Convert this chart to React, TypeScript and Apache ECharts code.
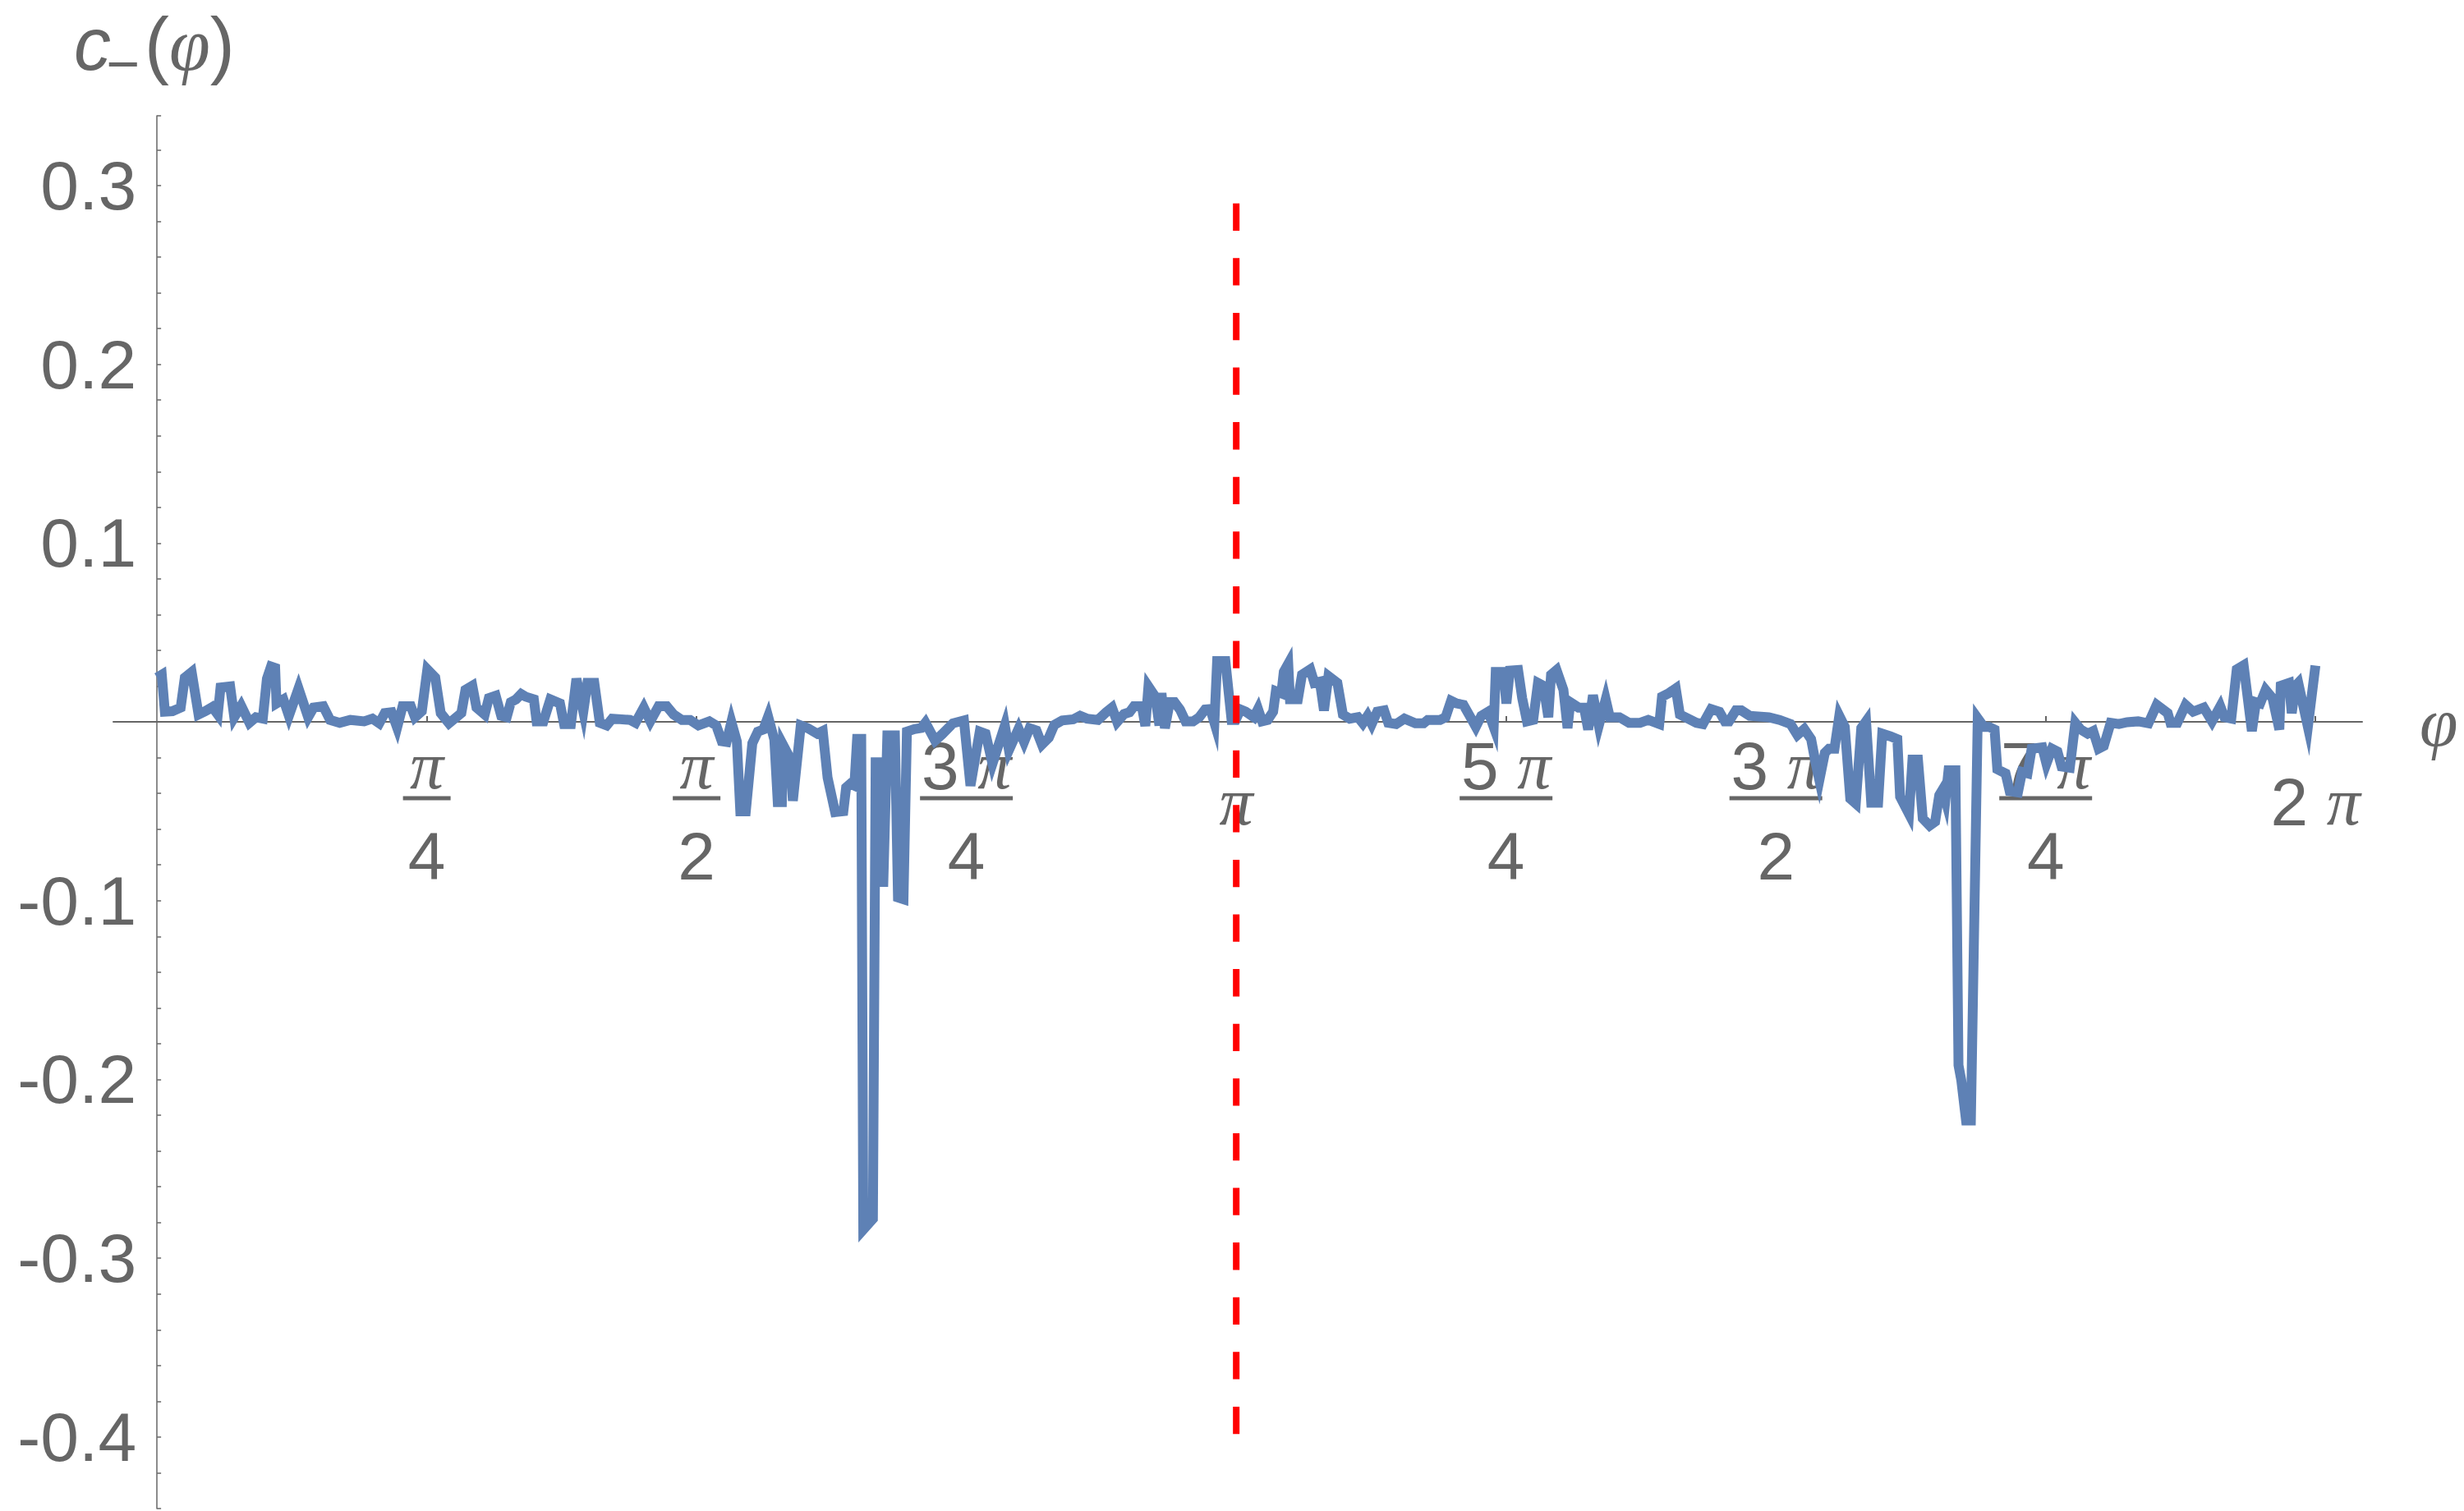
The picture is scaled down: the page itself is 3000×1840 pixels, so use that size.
import React, { useEffect, useRef } from 'react';
import * as echarts from 'echarts';

const PI = Math.PI;

// sample positions φ (radians) and values c₋(φ)
const phi = [
  0.000, 0.014, 0.023, 0.045, 0.069, 0.081, 0.101, 0.121, 0.141, 0.161, 0.177, 0.185, 0.213, 0.225, 0.245, 0.269, 0.288, 0.308, 0.320, 0.332,
  0.344, 0.348, 0.368, 0.384, 0.412, 0.440, 0.456, 0.484, 0.504, 0.532, 0.563, 0.603, 0.627, 0.647, 0.663, 0.683, 0.699, 0.715, 0.739, 0.751,
  0.771, 0.787, 0.810, 0.826, 0.850, 0.886, 0.898, 0.918, 0.930, 0.954, 0.966, 0.986, 1.002, 1.018, 1.030, 1.045, 1.060, 1.073, 1.097, 1.105,
  1.125, 1.145, 1.173, 1.185, 1.205, 1.221, 1.241, 1.253, 1.273, 1.289, 1.309, 1.325, 1.377, 1.393, 1.417, 1.436, 1.460, 1.484, 1.504, 1.528,
  1.552, 1.576, 1.608, 1.628, 1.644, 1.658, 1.672, 1.688, 1.698, 1.714, 1.733, 1.749, 1.765, 1.779, 1.797, 1.807, 1.819, 1.822, 1.843, 1.851,
  1.874, 1.894, 1.922, 1.938, 1.952, 1.974, 1.998, 2.006, 2.018, 2.030, 2.038, 2.050, 2.056, 2.084, 2.092, 2.108, 2.114, 2.126, 2.148, 2.157,
  2.173, 2.183, 2.205, 2.225, 2.237, 2.265, 2.285, 2.317, 2.349, 2.368, 2.395, 2.412, 2.432, 2.468, 2.480, 2.508, 2.524, 2.540, 2.560, 2.576,
  2.596, 2.612, 2.635, 2.667, 2.687, 2.707, 2.739, 2.763, 2.780, 2.795, 2.815, 2.831, 2.844, 2.867, 2.877, 2.886, 2.906, 2.918, 2.924, 2.934,
  2.948, 2.962, 2.978, 2.994, 3.016, 3.034, 3.051, 3.066, 3.078, 3.086, 3.110, 3.128, 3.140, 3.154, 3.169, 3.193, 3.205, 3.217, 3.233, 3.249,
  3.257, 3.273, 3.280, 3.293, 3.298, 3.321, 3.333, 3.357, 3.369, 3.385, 3.397, 3.410, 3.436, 3.452, 3.472, 3.496, 3.510, 3.524, 3.536, 3.552,
  3.572, 3.584, 3.607, 3.631, 3.663, 3.687, 3.699, 3.735, 3.751, 3.767, 3.783, 3.803, 3.821, 3.839, 3.855, 3.875, 3.891, 3.897, 3.919, 3.928,
  3.938, 3.962, 3.974, 3.988, 4.006, 4.020, 4.036, 4.050, 4.058, 4.074, 4.094, 4.106, 4.114, 4.138, 4.154, 4.166, 4.180, 4.197, 4.217, 4.229,
  4.257, 4.285, 4.317, 4.341, 4.373, 4.381, 4.401, 4.421, 4.433, 4.457, 4.481, 4.500, 4.524, 4.548, 4.564, 4.576, 4.596, 4.612, 4.636, 4.692,
  4.723, 4.755, 4.775, 4.795, 4.815, 4.827, 4.839, 4.855, 4.867, 4.883, 4.897, 4.913, 4.929, 4.945, 4.961, 4.975, 4.990, 5.010, 5.022, 5.046,
  5.066, 5.074, 5.100, 5.110, 5.126, 5.140, 5.160, 5.176, 5.188, 5.198, 5.206, 5.215, 5.235, 5.244, 5.252, 5.266, 5.280, 5.300, 5.318, 5.333,
  5.349, 5.357, 5.381, 5.393, 5.417, 5.429, 5.445, 5.457, 5.488, 5.500, 5.516, 5.532, 5.544, 5.568, 5.584, 5.600, 5.620, 5.636, 5.652, 5.667,
  5.687, 5.711, 5.735, 5.767, 5.797, 5.821, 5.853, 5.861, 5.881, 5.905, 5.927, 5.958, 5.982, 6.006, 6.018, 6.038, 6.054, 6.074, 6.098, 6.110,
  6.122, 6.138, 6.158, 6.178, 6.182, 6.206, 6.214, 6.225, 6.233, 6.261, 6.283,
];

const cMinus = [
  0.0248, 0.0264, 0.0057, 0.0060, 0.0080, 0.0248, 0.0279, 0.0041, 0.0060, 0.0083, 0.0041, 0.0192, 0.0198, 0.0026, 0.0090, -0.0005, 0.0026, 0.0018, 0.0241, 0.0310,
  0.0302, 0.0103, 0.0126, 0.0034, 0.0187, 0.0026, 0.0080, 0.0087, 0.0011, -0.0005, 0.0011, 0.0003, 0.0018, -0.0008, 0.0049, 0.0054, -0.0032, 0.0087, 0.0087, 0.0026,
  0.0060, 0.0294, 0.0248, 0.0049, -0.0008, 0.0049, 0.0179, 0.0202, 0.0080, 0.0041, 0.0133, 0.0146, 0.0034, 0.0026, 0.0110, 0.0126, 0.0156, 0.0141, 0.0126, 0.0003,
  0.0003, 0.0126, 0.0103, -0.0012, -0.0012, 0.0241, 0.0057, 0.0218, 0.0218, -0.0005, -0.0020, 0.0018, 0.0011, -0.0005, 0.0080, 0.0003, 0.0087, 0.0087, 0.0041, 0.0011,
  0.0011, -0.0020, 0.0003, -0.0020, -0.0108, -0.0112, 0.0000, -0.0110, -0.0500, -0.0500, -0.0120, -0.0055, -0.0043, 0.0030, -0.0100, -0.0449, -0.0449, -0.0127, -0.0204, -0.0441,
  -0.0020, -0.0035, -0.0066, -0.0051, -0.0311, -0.0505, -0.0500, -0.0367, -0.0347, -0.0357, -0.0095, -0.0095, -0.2840, -0.2780, -0.0226, -0.0226, -0.0922, -0.0075, -0.0075, -0.0982,
  -0.0992, -0.0054, -0.0040, -0.0034, -0.0004, -0.0105, -0.0070, -0.0008, 0.0008, -0.0357, -0.0054, -0.0066, -0.0234, -0.0020, -0.0158, -0.0038, -0.0112, -0.0035, -0.0048, -0.0127,
  -0.0089, -0.0017, 0.0008, 0.0014, 0.0034, 0.0018, 0.0011, 0.0054, 0.0080, 0.0000, 0.0044, 0.0054, 0.0087, 0.0087, -0.0023, 0.0198, 0.0141, -0.0020, 0.0161, -0.0035,
  0.0110, 0.0110, 0.0069, 0.0003, 0.0003, 0.0026, 0.0069, 0.0072, -0.0005, 0.0340, 0.0340, 0.0011, 0.0011, 0.0069, 0.0057, 0.0026, 0.0072, 0.0003, 0.0011, 0.0057,
  0.0172, 0.0160, 0.0280, 0.0325, 0.0126, 0.0126, 0.0264, 0.0294, 0.0218, 0.0225, 0.0064, 0.0256, 0.0218, 0.0041, 0.0018, 0.0026, -0.0008, 0.0034, -0.0012, 0.0057,
  0.0064, -0.0005, -0.0012, 0.0018, -0.0008, -0.0008, 0.0011, 0.0011, 0.0026, 0.0118, 0.0103, 0.0095, 0.0034, -0.0028, 0.0034, 0.0057, -0.0028, 0.0279, 0.0279, 0.0103,
  0.0287, 0.0290, 0.0133, 0.0003, 0.0011, 0.0218, 0.0202, 0.0026, 0.0264, 0.0290, 0.0179, -0.0035, 0.0110, 0.0080, 0.0080, -0.0043, 0.0149, -0.0020, 0.0126, 0.0026,
  0.0026, -0.0005, -0.0005, 0.0011, -0.0012, 0.0141, 0.0161, 0.0187, 0.0041, 0.0018, -0.0005, -0.0012, 0.0072, 0.0057, 0.0003, 0.0003, 0.0064, 0.0064, 0.0034, 0.0026,
  0.0011, -0.0012, -0.0074, -0.0040, -0.0097, -0.0219, -0.0326, -0.0173, -0.0150, -0.0150, 0.0034, -0.0028, -0.0430, -0.0457, -0.0035, 0.0003, -0.0452, -0.0452, -0.0066, -0.0081,
  -0.0097, -0.0418, -0.0515, -0.0211, -0.0211, -0.0540, -0.0580, -0.0558, -0.0410, -0.0378, -0.0435, -0.0271, -0.0271, -0.1920, -0.2003, -0.2230, -0.2230, 0.0020, -0.0028, -0.0028,
  -0.0043, -0.0265, -0.0288, -0.0388, -0.0395, -0.0280, -0.0288, -0.0150, -0.0143, -0.0234, -0.0150, -0.0166, -0.0250, -0.0257, -0.0005, -0.0043, -0.0066, -0.0051, -0.0150, -0.0135,
  -0.0005, -0.0012, -0.0002, 0.0003, -0.0008, 0.0095, 0.0049, -0.0005, -0.0005, 0.0095, 0.0057, 0.0080, 0.0003, 0.0087, 0.0026, 0.0018, 0.0294, 0.0317, -0.0051, 0.0110,
  0.0103, 0.0179, 0.0133, -0.0043, 0.0202, 0.0218, 0.0049, 0.0202, 0.0218, -0.0028, 0.0315,
];

// vertical red dashed marker at φ = π
const markerPhi = PI;
const markerRange = [0.29, -0.4];

// axis ranges
const X_MIN = -0.127;
const X_MAX = 6.419;
const Y_MIN = -0.44;
const Y_MAX = 0.339;

// axis ticks and labels
const xTickMultiples = [1, 2, 3, 4, 5, 6, 7, 8]; // multiples of π/4
const xTickNumerators = ['π', 'π', '3 π', 'π', '5 π', '3 π', '7 π', '2 π'];
const xTickDenominators = ['4', '2', '4', '', '4', '2', '4', ''];
const yTickValues = [-0.4, -0.3, -0.2, -0.1, 0.1, 0.2, 0.3];
const yTickLabels = ['-0.4', '-0.3', '-0.2', '-0.1', '0.1', '0.2', '0.3'];

const GRAY = '#666666';
const SANS = 'Liberation Sans';
const SERIF = 'Liberation Serif';

const W = 3000;
const H = 1840;
const G_LEFT = 138;
const G_RIGHT = 124;
const G_TOP = 141;
const G_BOTTOM = 3;

function xLabel(value: number): string {
  const k = Math.round(value / (PI / 4));
  const i = xTickMultiples.indexOf(k);
  if (i < 0) return '';
  const num = xTickNumerators[i];
  const den = xTickDenominators[i];
  const parts = num.split(' ');
  const numRich = parts.length > 1 ? `{NUM|${parts[0]} }{PI|${parts[1]}}` : `{PI|${parts[0]}}`;
  if (!den) {
    return parts.length > 1 ? `{SNUM|${parts[0]} }{SPI|${parts[1]}}` : `{SPI|${parts[0]}}`;
  }
  const bar = parts.length > 1 ? '{BAR2| }' : '{BAR1| }';
  return `${numRich}\n${bar}\n{DEN|${den}}`;
}

function yLabel(value: number): string {
  for (let i = 0; i < yTickValues.length; i++) {
    if (Math.abs(yTickValues[i] - value) < 1e-6) return yTickLabels[i];
  }
  return '';
}

export default function App() {
  const ref = useRef<HTMLDivElement>(null);

  useEffect(() => {
    if (!ref.current) return;
    const chart = echarts.init(ref.current, undefined, { renderer: 'svg' });
    const lineData = phi.map((p, i) => [p, cMinus[i]]);
    const markerData = markerRange.map((v) => [markerPhi, v]);

    // place each axis where the other axis is zero (axes cross at the origin)
    const gridW = W - G_LEFT - G_RIGHT;
    const gridH = H - G_TOP - G_BOTTOM;
    const yAxisShift = ((0 - X_MIN) / (X_MAX - X_MIN)) * gridW;
    const xAxisShift = ((0 - Y_MIN) / (Y_MAX - Y_MIN)) * gridH;

    const fs = 82;

    chart.setOption({
      animation: false,
      backgroundColor: '#ffffff',
      grid: { left: G_LEFT, right: G_RIGHT, top: G_TOP, bottom: G_BOTTOM, containLabel: false, outerBoundsMode: 'none' },
      graphic: [
        {
          type: 'text',
          x: 90,
          y: 54,
          silent: true,
          style: {
            text: 'c',
            fill: GRAY,
            fontSize: 90,
            lineHeight: 88,
            fontFamily: SANS,
            fontStyle: 'italic',
            align: 'left',
            textAlign: 'left',
            verticalAlign: 'middle',
            textVerticalAlign: 'middle',
          },
        },
        {
          type: 'text',
          x: 150,
          y: 78,
          silent: true,
          style: {
            text: '−',
            fill: GRAY,
            fontSize: 70,
            lineHeight: 60,
            fontFamily: SANS,
            align: 'center',
            textAlign: 'center',
            verticalAlign: 'middle',
            textVerticalAlign: 'middle',
          },
        },
        {
          type: 'text',
          x: 176,
          y: 54,
          silent: true,
          style: {
            text: '{P|(}{F|φ}{P|)}',
            fill: GRAY,
            lineHeight: 88,
            align: 'left',
            textAlign: 'left',
            verticalAlign: 'middle',
            textVerticalAlign: 'middle',
            rich: {
              P: { fontSize: 90, lineHeight: 88, fontFamily: SANS, fill: GRAY, color: GRAY },
              F: { fontSize: 90, lineHeight: 88, fontFamily: SERIF, fontStyle: 'italic', fill: GRAY, color: GRAY },
            },
          },
        },
      ],
      xAxis: {
        type: 'value',
        position: 'bottom',
        offset: -xAxisShift,
        min: X_MIN,
        max: X_MAX,
        splitLine: { show: false },
        axisLine: { onZero: false, lineStyle: { color: GRAY, width: 2 } },
        axisTick: {
          show: true,
          inside: true,
          length: 7,
          customValues: xTickMultiples.map((k) => (k * PI) / 4),
          lineStyle: { color: GRAY, width: 2 },
        },
        axisLabel: {
          show: true,
          customValues: xTickMultiples.map((k) => (k * PI) / 4),
          formatter: xLabel,
          margin: 18,
          color: GRAY,
          rich: {
            NUM: { fontSize: fs, fontFamily: SANS, color: GRAY, lineHeight: 70 },
            PI: { fontSize: fs, fontFamily: SERIF, fontStyle: 'italic', color: GRAY, lineHeight: 70 },
            BAR1: { width: 58, height: 5, backgroundColor: GRAY, lineHeight: 10, fontSize: 4 },
            BAR2: { width: 113, height: 5, backgroundColor: GRAY, lineHeight: 10, fontSize: 4 },
            DEN: { fontSize: fs, fontFamily: SANS, color: GRAY, lineHeight: 130 },
            SNUM: { fontSize: fs, fontFamily: SANS, color: GRAY, lineHeight: 158 },
            SPI: { fontSize: fs, fontFamily: SERIF, fontStyle: 'italic', color: GRAY, lineHeight: 158 },
          },
        },
        name: 'φ',
        nameLocation: 'end',
        nameGap: 70,
        nameTextStyle: {
          fontSize: 84,
          fontFamily: SERIF,
          fontStyle: 'italic',
          color: GRAY,
          align: 'left',
          verticalAlign: 'middle',
        },
      },
      yAxis: {
        type: 'value',
        position: 'left',
        offset: -yAxisShift,
        min: Y_MIN,
        max: Y_MAX,
        interval: 0.02,
        splitLine: { show: false },
        axisLine: { onZero: false, lineStyle: { color: GRAY, width: 1.5 } },
        axisTick: { show: true, inside: true, length: 5, lineStyle: { color: GRAY, width: 1.5 } },
        axisLabel: {
          formatter: yLabel,
          margin: 25,
          fontSize: 84,
          fontFamily: SANS,
          color: GRAY,
        },
      },
      series: [
        {
          type: 'line',
          data: lineData,
          showSymbol: false,
          symbol: 'none',
          z: 3,
          lineStyle: { color: '#5E81B5', width: 12, cap: 'butt', join: 'miter', miterLimit: 6 },
        },
        {
          type: 'line',
          data: markerData,
          showSymbol: false,
          symbol: 'none',
          z: 4,
          lineStyle: { color: '#FF0000', width: 8, type: [33.3, 33.3], cap: 'butt' },
        },
      ],
    });

    return () => chart.dispose();
  }, []);

  return (
    <div
      ref={ref}
      style={{ position: 'absolute', left: 0, top: 0, width: W, height: H, background: '#ffffff' }}
    />
  );
}
